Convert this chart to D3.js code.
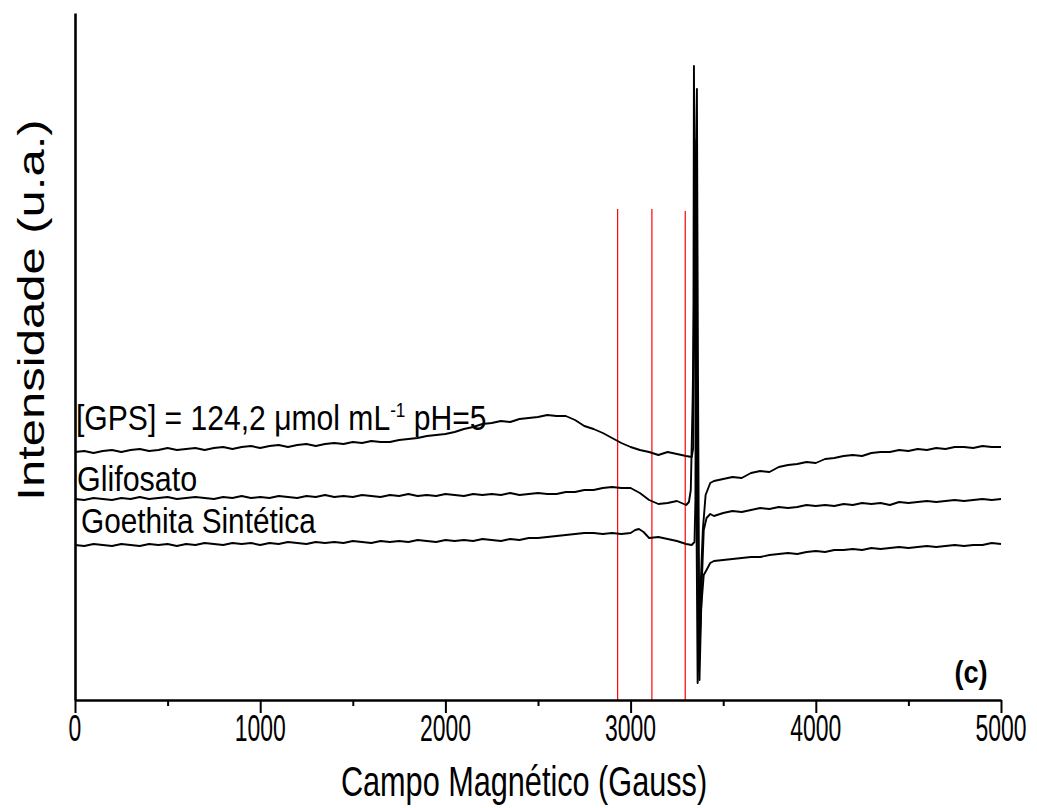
<!DOCTYPE html>
<html><head><meta charset="utf-8">
<script src="https://cdn.jsdelivr.net/npm/d3@7"></script>
<style>body{margin:0;background:#fff}svg{display:block}</style>
</head><body><svg id="c" width="1037" height="808"></svg>
<script>
// ---------- data (field in Gauss, intensity in arbitrary units) ----------
const xTicks = [0, 1000, 2000, 3000, 4000, 5000];
const xMinorTicks = [500, 1500, 2500, 3500, 4500];
const markerFields = [2930, 3115, 3295];
const markerTops = [491, 491, 489];
const seriesNames = ["[GPS] = 124,2 μmol mL-1 pH=5", "Glifosato", "Goethita Sintética"];

const gps = [[0,248],[50,249],[100,247],[150,249],[200,250],[250,248],[300,250],[350,251],[400,249],[450,250],
[500,252],[550,250],[600,251],[650,252],[700,250],[750,252],[800,253],[850,251],[900,253],[950,254],
[1000,252],[1050,254],[1100,255],[1150,253],[1200,255],[1250,256],[1300,254],[1350,256],[1400,257],[1450,256],
[1500,258],[1550,257],[1600,259],[1650,258],[1700,258],[1750,260],[1800,261],[1850,262],[1900,264],[1950,265],
[2000,266],[2050,268],[2100,271],[2150,273],[2200,276],[2250,277],[2300,279],[2350,278],[2400,281],[2450,282],
[2500,283],[2550,285],[2600,284],[2650,284],[2700,280],[2750,274],[2800,271],[2850,267],[2900,262],[2950,257],
[3000,253],[3050,250],[3100,248],[3150,245],[3200,248],[3250,246],[3300,244],[3330,243],[3338,252],[3342,634],
[3350,330],[3362,17],[3375,100],[3390,170],[3405,205],[3430,217],
[3450,219],[3500,221],[3550,223],[3600,222],[3650,227],[3700,229],[3750,228],[3800,233],[3850,235],[3900,236],
[3950,238],[4000,237],[4050,241],[4100,242],[4150,244],[4200,245],[4250,244],[4300,247],[4350,248],[4400,248],
[4450,250],[4500,249],[4550,251],[4600,250],[4650,252],[4700,251],[4750,253],[4800,253],[4850,252],[4900,254],
[4950,253],[5000,253]];

const glifosato = [[0,201],[50,200],[100,202],[150,201],[200,200],[250,202],[300,201],[350,203],[400,201],[450,202],
[500,203],[550,201],[600,202],[650,203],[700,202],[750,201],[800,203],[850,202],[900,204],[950,202],
[1000,203],[1050,202],[1100,204],[1150,203],[1200,202],[1250,204],[1300,203],[1350,205],[1400,203],[1450,204],
[1500,203],[1550,205],[1600,204],[1650,203],[1700,205],[1750,204],[1800,206],[1850,204],[1900,205],[1950,204],
[2000,206],[2050,205],[2100,204],[2150,206],[2200,205],[2250,206],[2300,205],[2350,207],[2400,205],[2450,206],
[2500,207],[2550,206],[2600,206],[2650,208],[2700,208],[2750,210],[2800,210],[2850,212],[2900,213],[2950,212],
[3000,212],[3050,207],[3100,200],[3150,196],[3200,197],[3250,199],[3300,195],[3315,198],[3325,210],[3335,300],
[3358,611],[3364,320],[3372,20],[3385,120],[3395,170],[3410,182],[3430,186],
[3450,184],[3500,187],[3550,189],[3600,188],[3650,190],[3700,192],[3750,191],[3800,193],[3850,192],[3900,193],
[3950,195],[4000,194],[4050,195],[4100,194],[4150,196],[4200,195],[4250,197],[4300,196],[4350,197],[4400,195],
[4450,198],[4500,197],[4550,198],[4600,199],[4650,198],[4700,199],[4750,200],[4800,199],[4850,200],[4900,201],
[4950,200],[5000,201]];

const goethita = [[0,155],[50,154],[100,156],[150,155],[200,154],[250,156],[300,155],[350,154],[400,156],[450,155],
[500,156],[550,154],[600,156],[650,155],[700,157],[750,156],[800,155],[850,157],[900,156],[950,157],
[1000,155],[1050,157],[1100,156],[1150,158],[1200,157],[1250,156],[1300,158],[1350,157],[1400,158],[1450,157],
[1500,159],[1550,158],[1600,157],[1650,159],[1700,158],[1750,159],[1800,158],[1850,160],[1900,159],[1950,158],
[2000,160],[2050,159],[2100,160],[2150,159],[2200,161],[2250,160],[2300,159],[2350,161],[2400,160],[2450,162],
[2500,162],[2550,163],[2600,164],[2650,165],[2700,166],[2750,167],[2800,167],[2850,166],[2900,167],[2950,166],
[3000,167],[3025,170],[3045,171],[3070,168],[3100,162],[3150,163],[3200,161],[3250,159],[3300,156],[3330,155],
[3345,158],[3350,200],[3355,560],[3360,300],[3368,30],[3380,90],[3395,125],[3410,130],[3430,137],
[3450,139],[3500,140],[3550,141],[3600,142],[3650,143],[3700,143],[3750,145],[3800,146],[3850,147],[3900,146],
[3950,148],[4000,149],[4050,148],[4100,150],[4150,150],[4200,151],[4250,150],[4300,152],[4350,151],[4400,152],
[4450,153],[4500,152],[4550,153],[4600,154],[4650,153],[4700,154],[4750,155],[4800,154],[4850,155],[4900,155],
[4950,157],[5000,156]];

// ---------- drawing ----------
const FONT = "'Liberation Sans', Arial, sans-serif";
const svg = d3.select("#c");
const x = d3.scaleLinear().domain([0, 5000]).range([75, 1001]);
const y = d3.scaleLinear().domain([0, 687]).range([700, 13]);

// red marker lines
svg.append("g").selectAll("line").data(markerFields).join("line")
  .attr("x1", d => x(d)).attr("x2", d => x(d))
  .attr("y1", (d, i) => y(markerTops[i])).attr("y2", y(0))
  .attr("stroke", "#ff0000").attr("stroke-width", 1.2);

// spectra
const line = d3.line().x(d => x(d[0])).y(d => y(d[1]));
svg.append("g").selectAll("path").data([goethita, glifosato, gps]).join("path")
  .attr("d", line).attr("fill", "none").attr("stroke", "#000")
  .attr("stroke-width", 1.9).attr("stroke-linejoin", "round");

// axes
svg.append("g").attr("transform", `translate(0,${y(0)})`)
  .call(d3.axisBottom(x).tickValues(xTicks).tickSize(13).tickSizeOuter(0).tickFormat(""));
const xMinor = svg.append("g").attr("transform", `translate(0,${y(0)})`)
  .call(d3.axisBottom(x).tickValues(xMinorTicks).tickSize(6).tickSizeOuter(0).tickFormat(""));
xMinor.select(".domain").remove();
svg.append("g").attr("transform", `translate(${x(0)},0)`)
  .call(d3.axisLeft(y).tickValues([]).tickSizeOuter(0));
svg.selectAll(".domain").attr("stroke-width", 2.6).attr("stroke", "#000");
svg.selectAll(".tick line").attr("stroke-width", 2).attr("stroke", "#000");

// tick labels (condensed)
svg.append("g").selectAll("text").data(xTicks).join("text")
  .attr("transform", d => `translate(${x(d)},741) scale(0.62,1)`)
  .attr("text-anchor", "middle").attr("font-family", FONT).attr("font-size", 37)
  .text(d => d);

// axis titles
svg.append("text").attr("transform", "translate(524,796) scale(0.73,1)")
  .attr("text-anchor", "middle").attr("font-family", FONT).attr("font-size", 42)
  .text("Campo Magnético (Gauss)");
svg.append("text").attr("transform", "translate(44,310) scale(0.74,1) rotate(-90)")
  .attr("text-anchor", "middle").attr("font-family", FONT).attr("font-size", 49)
  .text("Intensidade (u.a.)");

// series labels
const gl = svg.append("text").attr("transform", "translate(76,430) scale(0.86,1)")
  .attr("font-family", FONT).attr("font-size", 35);
gl.append("tspan").text("[GPS] = 124,2 μmol mL");
gl.append("tspan").attr("font-size", 20).attr("dy", -13).text("-1");
gl.append("tspan").attr("dy", 13).text(" pH=5");

svg.append("text").attr("transform", "translate(77,491) scale(0.87,1)")
  .attr("font-family", FONT).attr("font-size", 35).text(seriesNames[1]);
svg.append("text").attr("transform", "translate(81,533) scale(0.85,1)")
  .attr("font-family", FONT).attr("font-size", 35).text(seriesNames[2]);

// panel label
svg.append("text").attr("transform", "translate(971,683) scale(0.85,1)")
  .attr("text-anchor", "middle").attr("font-family", FONT).attr("font-weight", "bold")
  .attr("font-size", 32).text("(c)");
</script></body></html>
